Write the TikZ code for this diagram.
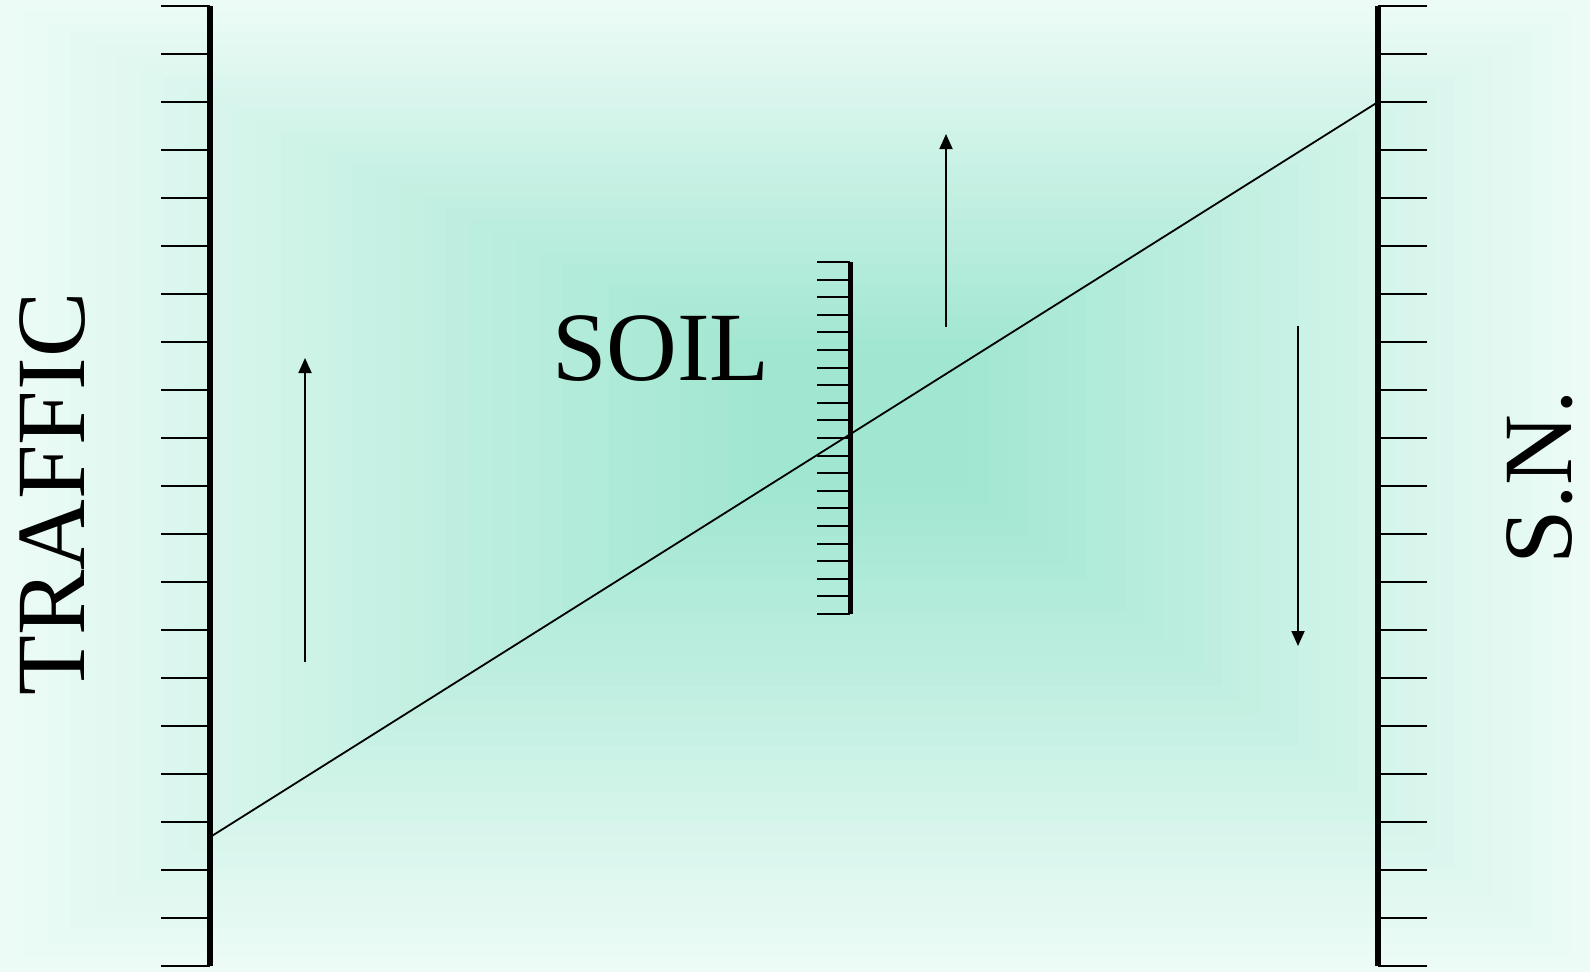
\documentclass[tikz,border=0pt]{standalone}
\usepackage{fontspec}
\setmainfont{Liberation Serif}
\usetikzlibrary{arrows.meta}
\definecolor{bgout}{RGB}{236,251,246}
\definecolor{bgin}{RGB}{160,230,209}
\tikzset{
  bar/.style={line width=6pt},
  midbar/.style={line width=5pt},
  tick/.style={line width=2pt},
  thinline/.style={line width=1.8pt},
  arr/.style={line width=1.8pt,-{Triangle[length=15pt,width=13pt]}},
  big/.style={font=\fontsize{98}{105}\selectfont, inner sep=0pt}
}
\begin{document}
\begin{tikzpicture}[x=1pt,y=-1pt]
\useasboundingbox (0,0) rectangle (1590,972);
% background stepped gradient
\def\N{32}
\foreach \i in {0,...,\N}{
  \pgfmathsetmacro\t{\i/\N}
  \pgfmathsetmacro\p{100*\t}
  \pgfmathsetmacro\xa{0+\t*(860-110)}
  \pgfmathsetmacro\ya{0+\t*(420-70)}
  \pgfmathsetmacro\xb{1590+\t*(860+110-1590)}
  \pgfmathsetmacro\yb{972+\t*(420+70-972)}
  \fill[bgin!\p!bgout] (\xa,\ya) rectangle (\xb,\yb);
}
% left scale
\coordinate (Ltop) at (209.5,6);
\coordinate (Lbot) at (209.5,966);
\draw[bar] (Ltop) -- (Lbot);
\foreach \k in {0,...,20}{
  \draw[tick] (161,{6+48*\k}) -- (209.5,{6+48*\k});
}
% right scale
\coordinate (Rtop) at (1378,6);
\coordinate (Rbot) at (1378,966);
\draw[bar] (Rtop) -- (Rbot);
\foreach \k in {0,...,20}{
  \draw[tick] (1378,{6+48*\k}) -- (1427,{6+48*\k});
}
% middle scale
\coordinate (Mtop) at (850,262);
\coordinate (Mbot) at (850,614);
\draw[midbar] (Mtop) -- (Mbot);
\foreach \k in {0,...,20}{
  \draw[tick] (817,{262+17.6*\k}) -- (850,{262+17.6*\k});
}
% diagonal
\coordinate (DL) at (211,836.5);
\coordinate (DR) at (1378,102);
\draw[thinline] (DL) -- (DR);
% arrows
\coordinate (A1s) at (305,662);
\coordinate (A1e) at (305,358);
\draw[arr] (A1s) -- (A1e);
\coordinate (A2s) at (946,326.5);
\coordinate (A2e) at (946,134);
\draw[arr] (A2s) -- (A2e);
\coordinate (A3s) at (1298,325.5);
\coordinate (A3e) at (1298,646);
\draw[arr] (A3s) -- (A3e);
% texts
\node[big,rotate=90] (traffic) at (53,494) {TRAFFIC};
\node[big,rotate=90] (sn) at (1540,477) {S.N.};
\node[big] (soil) at (661,349) {SOIL};
\end{tikzpicture}
\end{document}
